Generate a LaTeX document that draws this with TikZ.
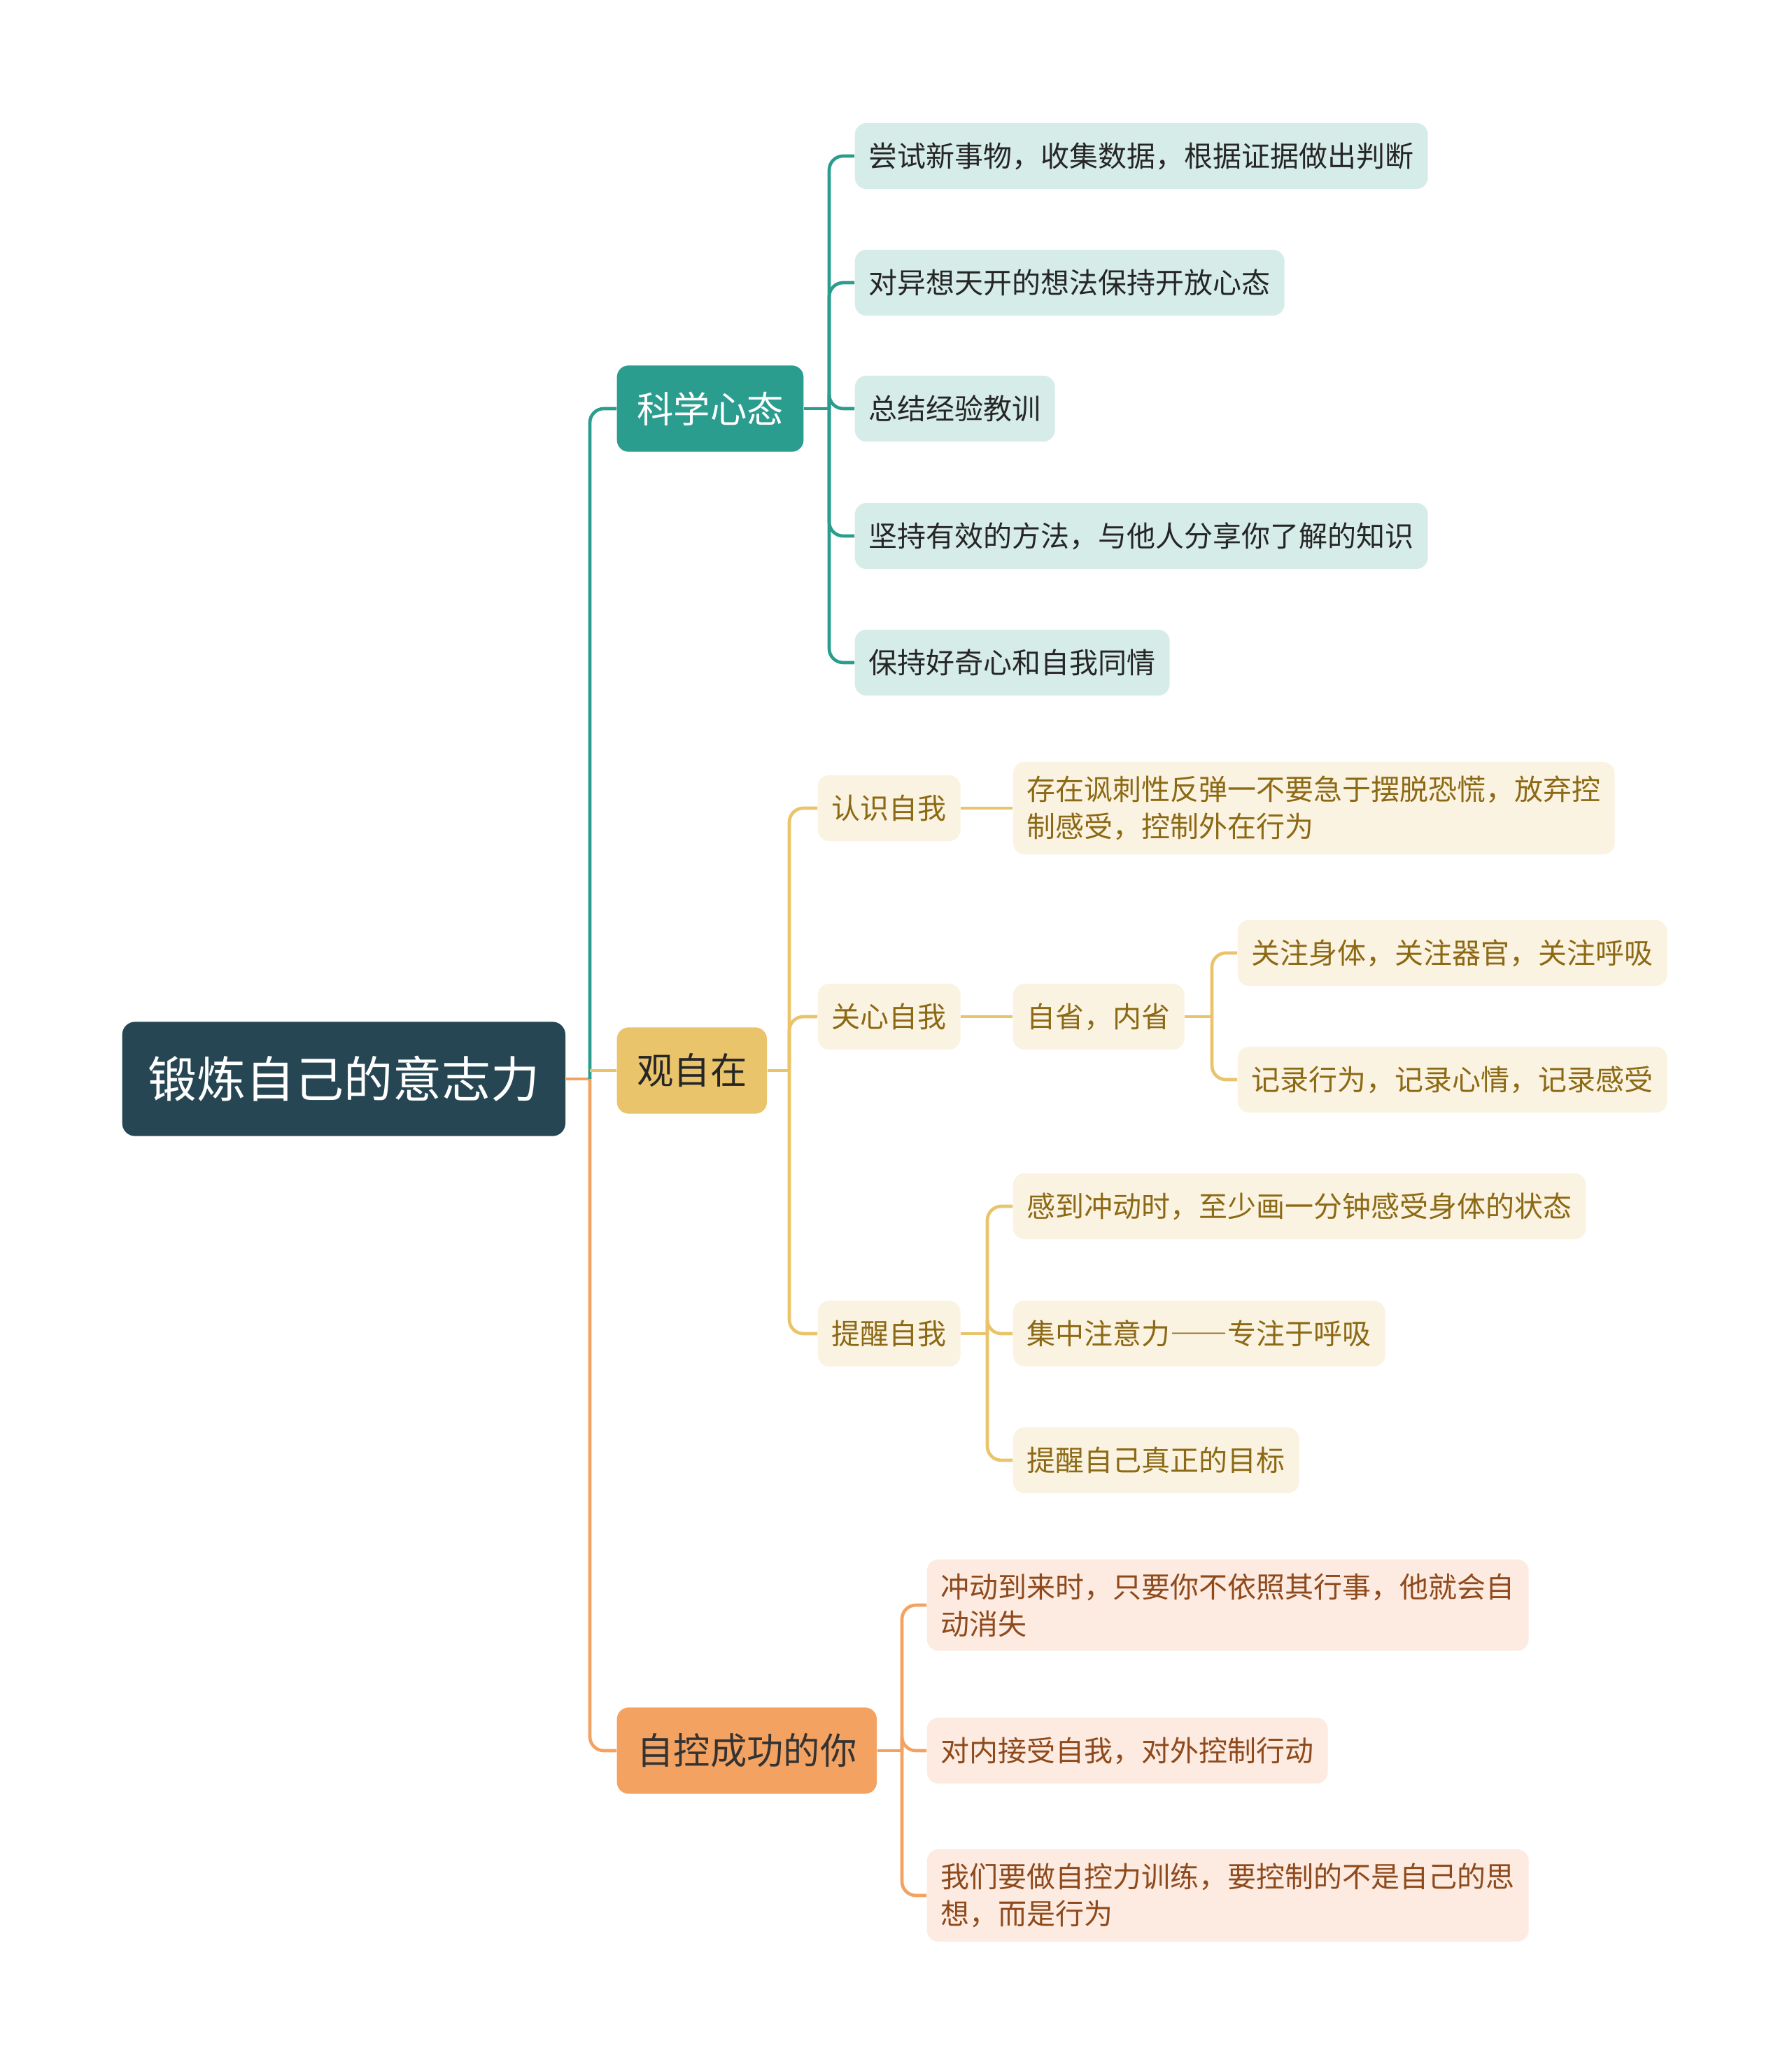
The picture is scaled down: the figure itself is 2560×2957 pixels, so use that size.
\documentclass[tikz,border=0pt]{standalone}
\usepackage{fontspec}
\setmainfont{Noto Sans CJK SC}
\newfontfamily\fwfont[RawFeature=+fwid]{Noto Sans CJK SC}
\usetikzlibrary{positioning}

\definecolor{rootcol}{HTML}{264653}
\definecolor{tealcol}{HTML}{2A9D8F}
\definecolor{yelcol}{HTML}{E9C46A}
\definecolor{orgcol}{HTML}{F4A261}
\definecolor{teallight}{HTML}{D6ECE9}
\definecolor{yellight}{HTML}{FBF3E2}
\definecolor{orglight}{HTML}{FDEBE1}
\definecolor{yeltext}{HTML}{8C6914}
\definecolor{orgtext}{HTML}{8E4A1C}

\begin{document}
\begin{tikzpicture}[
  x=0.3pt, y=-0.3pt,
  rootbox/.style={rectangle, rounded corners=5.5pt, fill=rootcol, text=white, anchor=west,
    minimum height=49pt, inner xsep=11pt, font=\fontsize{21}{25}\selectfont},
  mainbox/.style={rectangle, rounded corners=5pt, anchor=west, minimum height=37pt,
    inner xsep=8.6pt, font=\fontsize{15.7}{19}\selectfont},
  leaf/.style={rectangle, rounded corners=5pt, anchor=west, minimum height=28.3pt,
    inner xsep=6pt, inner ysep=6pt, align=left, font=\fontsize{12.3}{15.9}\selectfont},
  tleaf/.style={leaf, fill=teallight, text=black!85},
  yleaf/.style={leaf, fill=yellight, text=yeltext},
  oleaf/.style={leaf, fill=orglight, text=orgtext},
  tline/.style={draw=tealcol, line width=1.4pt, rounded corners=6pt},
  yline/.style={draw=yelcol, line width=1.4pt, rounded corners=6pt},
  oline/.style={draw=orgcol, line width=1.4pt, rounded corners=6pt}
]
\useasboundingbox (0,0) rectangle (2560,2957);

\node [rootbox] (root) at (174,1542) {锻炼自己的意志力};
\coordinate (hub) at (843,1542);

\node [mainbox, fill=tealcol, text=white] (sci) at (881,584) {科学心态};
\node [mainbox, fill=yelcol, text=black!85] (obs) at (881,1530) {观自在};
\node [mainbox, fill=orgcol, text=black!80] (ctrl) at (881,2502) {自控成功的你};

\node [tleaf] (s1) at (1221,223) {尝试新事物，收集数据，根据证据做出判断};
\node [tleaf] (s2) at (1221,404) {对异想天开的想法保持开放心态};
\node [tleaf] (s3) at (1221,584) {总结经验教训};
\node [tleaf] (s4) at (1221,766) {坚持有效的方法，与他人分享你了解的知识};
\node [tleaf] (s5) at (1221,947) {保持好奇心和自我同情};

\node [yleaf] (know) at (1168,1155) {认识自我};
\node [yleaf] (know1) at (1447,1155) {存在讽刺性反弹一不要急于摆脱恐慌，放弃控\\制感受，控制外在行为};
\node [yleaf] (care) at (1168,1453) {关心自我};
\node [yleaf] (care1) at (1447,1453) {自省，内省};
\node [yleaf] (care1a) at (1768,1362) {关注身体，关注器官，关注呼吸};
\node [yleaf] (care1b) at (1768,1543) {记录行为，记录心情，记录感受};
\node [yleaf] (remind) at (1168,1906) {提醒自我};
\node [yleaf] (rem1) at (1447,1724) {感到冲动时，至少画一分钟感受身体的状态};
\node [yleaf] (rem2) at (1447,1906) {集中注意力{\fwfont ——}专注于呼吸};
\node [yleaf] (rem3) at (1447,2087) {提醒自己真正的目标};

\node [oleaf] (c1) at (1324,2294) {冲动到来时，只要你不依照其行事，他就会自\\动消失};
\node [oleaf] (c2) at (1324,2502) {对内接受自我，对外控制行动};
\node [oleaf] (c3) at (1324,2709) {我们要做自控力训练，要控制的不是自己的思\\想，而是行为};

\coordinate (sbus) at (1185,584);
\coordinate (obus) at (1128,1530);
\coordinate (cbus) at (1732,1453);
\coordinate (rbus) at (1411,1906);
\coordinate (kbus) at (1289,2502);

\draw [oline] (root.east) -- (hub);
\draw [tline] (hub) |- (sci.west);
\draw [oline] (hub) |- (ctrl.west);
\draw [yline] (hub |- obs.west) -- (obs.west);

\draw [tline] (sci.east) -- (sbus);
\foreach \n in {s1,s2,s3,s4,s5}
  \draw [tline] (sbus) |- (\n.west);

\draw [yline] (obs.east) -- (obus);
\foreach \n in {know,care,remind}
  \draw [yline] (obus) |- (\n.west);
\draw [yline] (know.east) -- (know1.west);
\draw [yline] (care.east) -- (care1.west);
\draw [yline] (care1.east) -- (cbus);
\foreach \n in {care1a,care1b}
  \draw [yline] (cbus) |- (\n.west);
\draw [yline] (remind.east) -- (rbus);
\foreach \n in {rem1,rem2,rem3}
  \draw [yline] (rbus) |- (\n.west);

\draw [oline] (ctrl.east) -- (kbus);
\foreach \n in {c1,c2,c3}
  \draw [oline] (kbus) |- (\n.west);
\end{tikzpicture}
\end{document}
